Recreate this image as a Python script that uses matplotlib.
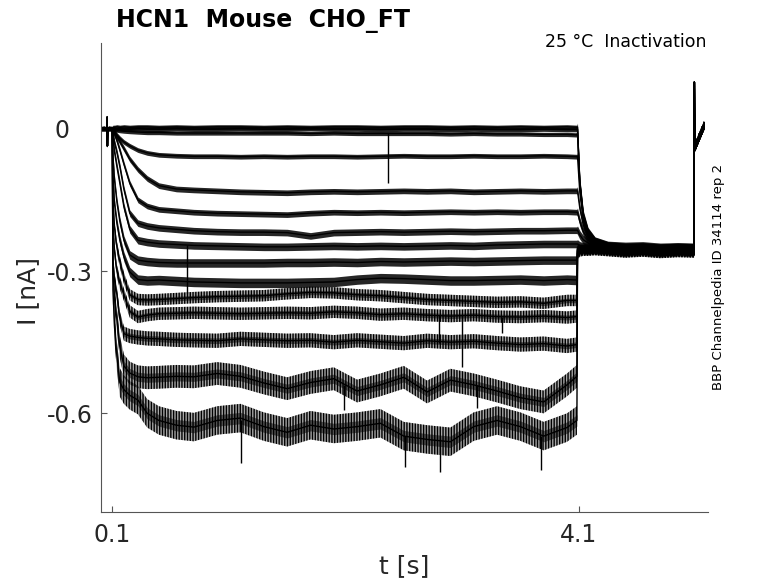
import numpy as np
import matplotlib
matplotlib.use("Agg")
import matplotlib.pyplot as plt

# ---------------- data ----------------
T_PRE = [0.006, 0.054, 0.056, 0.058, 0.060, 0.095]
PRE_I = [0.0, 0.0, 0.024, -0.036, 0.0, 0.0]

T_STEP = [0.100, 0.106, 0.12, 0.14, 0.165, 0.2, 0.25, 0.32, 0.4, 0.5, 0.65, 0.8,
          1.0, 1.2, 1.4, 1.6, 1.8, 2.0, 2.2, 2.4, 2.6, 2.8, 3.0, 3.2, 3.4, 3.6,
          3.8, 4.0, 4.085]

step_1 = [0, 0.003, 0.003, 0.004, 0.003, 0.004, 0.003, 0.004, 0.004, 0.003, 0.004, 0.003, 0.004, 0.004, 0.003,
          0.004, 0.003, 0.004, 0.004, 0.003, 0.004, 0.004, 0.003, 0.004, 0.003, 0.004, 0.003, 0.004, 0.003]
step_2 = [0, 0.000, -0.001, -0.001, 0.000, -0.001, -0.001, 0.000, -0.001, -0.001, 0.000, -0.001, -0.001, 0.000, -0.001,
          -0.001, 0.000, -0.001, -0.001, -0.002, -0.001, -0.001, -0.002, -0.001, -0.002, -0.002, -0.001, -0.002, -0.002]
step_3 = [0, 0.000, -0.002, -0.003, -0.004, -0.005, -0.006, -0.007, -0.008, -0.008, -0.009, -0.009, -0.009, -0.009, -0.009,
          -0.009, -0.010, -0.009, -0.010, -0.010, -0.010, -0.010, -0.011, -0.010, -0.011, -0.011, -0.012, -0.012, -0.013]
step_4 = [0, -0.001, -0.007, -0.013, -0.020, -0.028, -0.036, -0.045, -0.051, -0.055, -0.057, -0.058, -0.058, -0.059, -0.058,
          -0.059, -0.058, -0.058, -0.059, -0.058, -0.057, -0.058, -0.058, -0.057, -0.058, -0.058, -0.057, -0.058, -0.059]
step_5 = [0, -0.002, -0.007, -0.017, -0.027, -0.042, -0.064, -0.086, -0.105, -0.120, -0.127, -0.129, -0.131, -0.133, -0.134,
          -0.135, -0.133, -0.132, -0.133, -0.132, -0.131, -0.132, -0.131, -0.133, -0.132, -0.131, -0.132, -0.131, -0.131]
step_6 = [0, -0.004, -0.012, -0.025, -0.045, -0.075, -0.115, -0.150, -0.163, -0.170, -0.173, -0.176, -0.178, -0.179, -0.180,
          -0.181, -0.178, -0.176, -0.177, -0.176, -0.177, -0.176, -0.175, -0.176, -0.175, -0.176, -0.175, -0.175, -0.176]
step_7 = [0, -0.010, -0.030, -0.050, -0.080, -0.128, -0.178, -0.199, -0.205, -0.209, -0.212, -0.215, -0.217, -0.218, -0.218,
          -0.219, -0.226, -0.219, -0.218, -0.217, -0.218, -0.217, -0.216, -0.217, -0.216, -0.215, -0.215, -0.214, -0.214]
step_8 = [0, -0.020, -0.050, -0.080, -0.115, -0.165, -0.212, -0.235, -0.239, -0.242, -0.244, -0.246, -0.247, -0.248, -0.249,
          -0.249, -0.248, -0.247, -0.248, -0.247, -0.248, -0.247, -0.246, -0.247, -0.245, -0.244, -0.243, -0.243, -0.243]
step_9 = [0, -0.060, -0.110, -0.155, -0.195, -0.235, -0.266, -0.277, -0.280, -0.282, -0.283, -0.283, -0.283, -0.283, -0.283,
          -0.282, -0.282, -0.281, -0.282, -0.280, -0.281, -0.280, -0.279, -0.280, -0.279, -0.278, -0.277, -0.277, -0.277]
step_10 = [0, -0.100, -0.160, -0.200, -0.235, -0.270, -0.302, -0.318, -0.320, -0.319, -0.321, -0.323, -0.324, -0.325, -0.325,
           -0.325, -0.324, -0.323, -0.318, -0.315, -0.316, -0.318, -0.320, -0.320, -0.319, -0.318, -0.320, -0.318, -0.319]
step_11 = [0, -0.150, -0.210, -0.250, -0.280, -0.315, -0.350, -0.360, -0.361, -0.360, -0.358, -0.356, -0.354, -0.353, -0.352,
           -0.348, -0.345, -0.346, -0.350, -0.352, -0.356, -0.360, -0.362, -0.364, -0.366, -0.365, -0.368, -0.362, -0.362]
step_12 = [0, -0.200, -0.260, -0.300, -0.325, -0.350, -0.385, -0.397, -0.393, -0.390, -0.389, -0.388, -0.389, -0.390, -0.389,
           -0.388, -0.389, -0.386, -0.388, -0.392, -0.390, -0.393, -0.395, -0.393, -0.396, -0.397, -0.395, -0.398, -0.396]
step_13 = [0, -0.280, -0.320, -0.350, -0.400, -0.432, -0.437, -0.440, -0.442, -0.443, -0.445, -0.446, -0.447, -0.443, -0.445,
           -0.447, -0.446, -0.450, -0.446, -0.449, -0.452, -0.447, -0.450, -0.448, -0.452, -0.455, -0.453, -0.458, -0.455]
step_14 = [0, -0.300, -0.360, -0.403, -0.460, -0.500, -0.515, -0.523, -0.525, -0.524, -0.522, -0.523, -0.516, -0.522, -0.536,
           -0.548, -0.535, -0.527, -0.553, -0.540, -0.524, -0.555, -0.530, -0.540, -0.553, -0.567, -0.576, -0.540, -0.522]
step_15 = [0, -0.340, -0.420, -0.480, -0.535, -0.550, -0.562, -0.572, -0.600, -0.615, -0.625, -0.629, -0.615, -0.610, -0.628,
           -0.640, -0.625, -0.633, -0.628, -0.621, -0.648, -0.655, -0.660, -0.628, -0.615, -0.628, -0.648, -0.630, -0.615]

T_TAIL = [4.09, 4.11, 4.14, 4.18, 4.24, 4.35, 4.5, 4.65, 4.8, 4.95, 5.09]
tail_1 = [0.003, -0.112, -0.182, -0.217, -0.237, -0.246, -0.248, -0.247, -0.250, -0.249, -0.250]
tail_2 = [-0.001, -0.115, -0.185, -0.219, -0.238, -0.247, -0.250, -0.249, -0.252, -0.250, -0.251]
tail_3 = [-0.010, -0.120, -0.188, -0.220, -0.239, -0.248, -0.251, -0.250, -0.252, -0.251, -0.252]
tail_4 = [-0.058, -0.135, -0.193, -0.222, -0.240, -0.249, -0.252, -0.251, -0.253, -0.252, -0.253]
tail_5 = [-0.131, -0.168, -0.203, -0.226, -0.241, -0.250, -0.253, -0.252, -0.254, -0.253, -0.254]
tail_6 = [-0.176, -0.196, -0.217, -0.233, -0.243, -0.251, -0.254, -0.253, -0.255, -0.254, -0.255]
tail_7 = [-0.214, -0.224, -0.234, -0.241, -0.246, -0.252, -0.255, -0.254, -0.256, -0.255, -0.256]
tail_8 = [-0.243, -0.247, -0.249, -0.250, -0.251, -0.253, -0.256, -0.255, -0.257, -0.256, -0.257]
tail_9 = [-0.250, -0.252, -0.252, -0.253, -0.252, -0.254, -0.257, -0.255, -0.258, -0.256, -0.257]
tail_10 = [-0.252, -0.254, -0.253, -0.254, -0.253, -0.255, -0.258, -0.256, -0.259, -0.257, -0.258]
tail_11 = [-0.254, -0.255, -0.254, -0.255, -0.254, -0.256, -0.259, -0.257, -0.260, -0.258, -0.259]
tail_12 = [-0.256, -0.256, -0.255, -0.256, -0.255, -0.257, -0.260, -0.258, -0.261, -0.259, -0.260]
tail_13 = [-0.258, -0.258, -0.257, -0.257, -0.256, -0.258, -0.261, -0.259, -0.262, -0.260, -0.261]
tail_14 = [-0.262, -0.259, -0.258, -0.258, -0.257, -0.259, -0.262, -0.260, -0.263, -0.261, -0.262]
tail_15 = [-0.266, -0.261, -0.259, -0.259, -0.258, -0.260, -0.263, -0.261, -0.264, -0.262, -0.263]

T_POST = [5.092, 5.095, 5.13, 5.175]
POST_I = [0.098, -0.039, -0.018, 0.008]

STEPS = [step_1, step_2, step_3, step_4, step_5, step_6, step_7, step_8,
         step_9, step_10, step_11, step_12, step_13, step_14, step_15]
TAILS = [tail_1, tail_2, tail_3, tail_4, tail_5, tail_6, tail_7, tail_8,
         tail_9, tail_10, tail_11, tail_12, tail_13, tail_14, tail_15]
# visible noise half-width of each trace during the step [nA]
NOISE = [0.0045, 0.0045, 0.0045, 0.005, 0.006, 0.006, 0.007, 0.008,
         0.009, 0.010, 0.012, 0.013, 0.015, 0.024, 0.030]
NOISE_PRE = 0.004
NOISE_TAIL = 0.009
NOISE_POST = [0.0, 0.008, 0.008, 0.008]

# isolated downward glitches: time, from, to
SPIKE_T = [2.465, 0.74, 2.90, 3.10, 3.44, 2.61, 2.91, 3.78, 1.20, 2.09, 3.23]
SPIKE_FROM = [-0.010, -0.246, -0.393, -0.393, -0.396, -0.648, -0.655, -0.648, -0.615, -0.540, -0.540]
SPIKE_TO = [-0.114, -0.346, -0.452, -0.502, -0.431, -0.713, -0.724, -0.720, -0.705, -0.594, -0.589]

# ---------------- figure ----------------
plt.rcParams['font.family'] = ['DejaVu Sans']
plt.rcParams['hatch.linewidth'] = 1.0
fig = plt.figure(figsize=(7.78, 5.83), dpi=100)
ax = fig.add_axes([0.1302, 0.1213, 0.7798, 0.8049])

for step, tail, hw in zip(STEPS, TAILS, NOISE):
    t = np.array(T_PRE + T_STEP + T_TAIL + T_POST)
    v = np.array(PRE_I + step + tail + POST_I)
    w = np.array([NOISE_PRE] * len(T_PRE) + [hw] * len(T_STEP)
                 + [NOISE_TAIL] * len(T_TAIL) + NOISE_POST)
    w[len(T_PRE)] = NOISE_PRE
    if hw >= 0.012:
        # wide noisy band: textured fill
        ax.fill_between(t, v - w, v + w, facecolor=(0, 0, 0, 0.35),
                        edgecolor='black', hatch='|' * 6, lw=0)
        ax.fill_between(t, v - 0.4 * w, v + 0.4 * w, color='black',
                        alpha=0.5, lw=0)
    else:
        ax.fill_between(t, v - w, v + w, color='black', alpha=0.85, lw=0)
    ax.plot(t, v, color='black', lw=1.0)

ax.vlines(SPIKE_T, SPIKE_FROM, SPIKE_TO, color='black', lw=1.0)

ax.set_xlim(0.006, 5.209)
ax.set_ylim(-0.8086, 0.1807)

for s in ['top', 'right']:
    ax.spines[s].set_visible(False)
for s in ['left', 'bottom']:
    ax.spines[s].set_color('#555555')
    ax.spines[s].set_linewidth(0.8)

ax.set_xticks([0.1, 4.1])
ax.set_xticklabels(['0.1', '4.1'])
ax.set_yticks([-0.6, -0.3, 0.0])
ax.set_yticklabels(['-0.6', '-0.3', '0   '])
ax.tick_params(direction='in', length=4.5, width=0.8, colors='#555555',
               labelsize=17, labelcolor='#262626')
ax.tick_params(axis='y', pad=6.5)
ax.tick_params(axis='x', pad=8)

ax.set_xlabel('t [s]', fontsize=18, color='#262626')
ax.set_ylabel('I [nA]', fontsize=18, color='#262626')
ax.xaxis.set_label_coords(0.5, -0.09)
ax.yaxis.set_label_coords(-0.101, 0.4716)

fig.text(0.1491, 0.9537, 'HCN1  Mouse  CHO_FT', fontsize=17, fontweight='bold',
         ha='left', va='baseline', color='black')
fig.text(0.9075, 0.9194, '25 °C  Inactivation', fontsize=12.5,
         ha='right', va='baseline', color='black')
fig.text(0.9235, 0.5257, 'BBP Channelpedia ID 34114 rep 2', fontsize=9.5,
         rotation=90, ha='center', va='center', color='black')

fig.savefig('out.png', dpi=100)
